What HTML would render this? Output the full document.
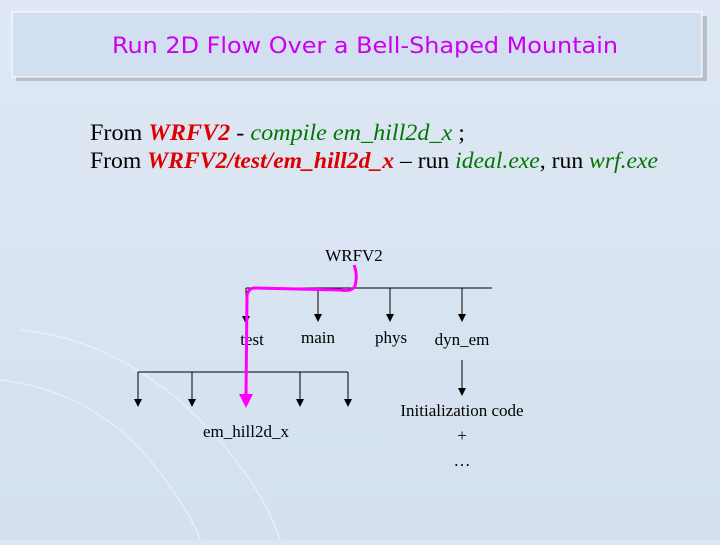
<!DOCTYPE html>
<html><head><meta charset="utf-8"><style>
html,body{margin:0;padding:0;}
body{width:720px;height:540px;overflow:hidden;background:#dce6f2;}
</style></head><body>
<svg width="720" height="540" xmlns="http://www.w3.org/2000/svg">
<defs>
<linearGradient id="bg" x1="0" y1="0" x2="0" y2="1">
<stop offset="0" stop-color="#dfe8f4"/><stop offset="1" stop-color="#d3e0ef"/></linearGradient>
</defs>
<rect width="720" height="540" fill="url(#bg)"/>
<g fill="none" stroke="#eef3fa" stroke-width="1.5" opacity="0.7">
<path d="M20,330 Q120,340 200,420 Q260,480 280,540"/>
<path d="M0,380 Q90,390 150,460 Q190,510 200,540"/>
</g>
<rect x="16" y="16" width="691" height="65" fill="#b8bec8"/>
<rect x="12" y="12" width="690" height="65" fill="#d2dff0" stroke="#fff" stroke-width="1"/>
<text x="365" y="53" text-anchor="middle" font-family="DejaVu Sans, sans-serif" font-size="22" fill="#cc00ee" textLength="506" lengthAdjust="spacingAndGlyphs">Run 2D Flow Over a Bell-Shaped Mountain</text>
<g font-family="Liberation Serif, serif" font-size="23">
<text x="90" y="140" textLength="375" lengthAdjust="spacingAndGlyphs">From <tspan fill="#dd0000" font-weight="bold" font-style="italic">WRFV2</tspan>  - <tspan fill="#007700" font-style="italic">compile em_hill2d_x</tspan> ;</text>
<text x="90" y="168" textLength="568" lengthAdjust="spacingAndGlyphs">From <tspan fill="#dd0000" font-weight="bold" font-style="italic">WRFV2/test/em_hill2d_x</tspan> – run <tspan fill="#007700" font-style="italic">ideal.exe</tspan>, run <tspan fill="#007700" font-style="italic">wrf.exe</tspan></text>
</g>
<g stroke="#000" stroke-width="1" fill="none">
<line x1="246" y1="288" x2="492" y2="288"/>
<line x1="246" y1="288" x2="246" y2="318"/>
<line x1="318" y1="288" x2="318" y2="316"/>
<line x1="390" y1="288" x2="390" y2="316"/>
<line x1="462" y1="288" x2="462" y2="316"/>
<line x1="138" y1="372" x2="348" y2="372"/>
<line x1="138" y1="372" x2="138" y2="400"/>
<line x1="192" y1="372" x2="192" y2="400"/>
<line x1="300" y1="372" x2="300" y2="400"/>
<line x1="348" y1="372" x2="348" y2="400"/>
<line x1="462" y1="360" x2="462" y2="390"/>
</g>
<g fill="#000">
<path d="M242,316 h8 l-4,8z"/><path d="M314,314 h8 l-4,8z"/><path d="M386,314 h8 l-4,8z"/><path d="M458,314 h8 l-4,8z"/>
<path d="M134,399 h8 l-4,8z"/><path d="M188,399 h8 l-4,8z"/><path d="M296,399 h8 l-4,8z"/><path d="M344,399 h8 l-4,8z"/>
<path d="M458,388 h8 l-4,8z"/>
</g>
<g font-family="Liberation Serif, serif" font-size="17" fill="#000" text-anchor="middle">
<text x="354" y="261">WRFV2</text>
<text x="252" y="345">test</text>
<text x="318" y="343">main</text>
<text x="391" y="343">phys</text>
<text x="462" y="345">dyn_em</text>
<text x="246" y="437">em_hill2d_x</text>
<text x="462" y="416">Initialization code</text>
<text x="462" y="441">+</text>
<text x="462" y="466">…</text>
</g>
<path d="M354,265 Q358,275 355,286 Q352,292 340,290 L255,288 Q248,288 247,296 L246,396" fill="none" stroke="#ff00ff" stroke-width="3"/>
<path d="M239,394 h14 l-7,14z" fill="#ff00ff"/>
</svg>
</body></html>
